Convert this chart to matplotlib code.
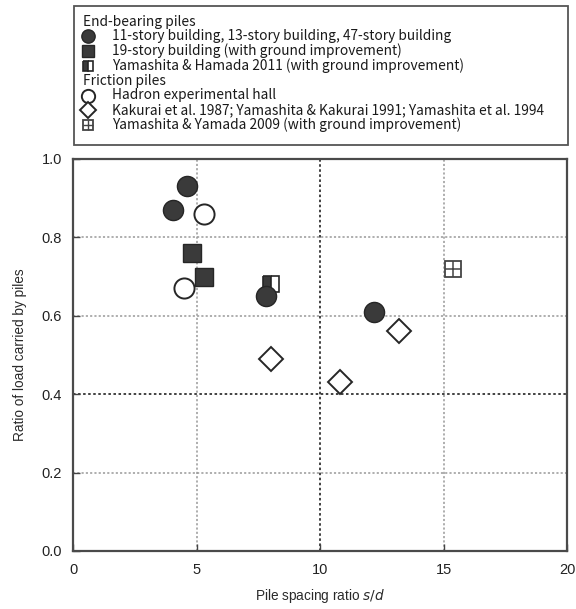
import matplotlib
matplotlib.use("Agg")
import matplotlib.pyplot as plt
from matplotlib.patches import Rectangle

# ---- data -----------------------------------------------------------------
# End-bearing piles
bldg_x = [4.03, 4.60, 7.82, 12.2]          # 11-, 13-, 47-story buildings
bldg_y = [0.87, 0.93, 0.65, 0.61]
gi19_x = [4.82, 5.31]                      # 19-story building (ground improvement)
gi19_y = [0.76, 0.70]
yh2011_x = [8.0]                           # Yamashita & Hamada 2011
yh2011_y = [0.68]
# Friction piles
hadron_x = [5.31, 4.51]                    # Hadron experimental hall
hadron_y = [0.86, 0.67]
kak_x = [8.0, 10.8, 13.19]                 # Kakurai / Yamashita et al.
kak_y = [0.49, 0.43, 0.56]
yy2009_x = [15.38]                         # Yamashita & Yamada 2009
yy2009_y = [0.72]

x_ticks = [0, 5, 10, 15, 20]
y_ticks = [0.0, 0.2, 0.4, 0.6, 0.8, 1.0]

legend_rows = [
    ("head", "End-bearing piles"),
    ("circle_f", "11-story building, 13-story building, 47-story building"),
    ("square_f", "19-story building (with ground improvement)"),
    ("square_h", "Yamashita & Hamada 2011 (with ground improvement)"),
    ("head", "Friction piles"),
    ("circle_o", "Hadron experimental hall"),
    ("diamond", "Kakurai et al. 1987; Yamashita & Kakurai 1991; Yamashita et al. 1994"),
    ("square_p", "Yamashita & Yamada 2009 (with ground improvement)"),
]

# ---- styles ---------------------------------------------------------------
DARK = "#3a3a3a"
EDGE = "#262626"
styles = {
    "circle_f": dict(marker="o", ms=14.5, mfc=DARK, mec=EDGE, mew=1.0),
    "square_f": dict(marker="s", ms=12.5, mfc=DARK, mec=EDGE, mew=1.0),
    "square_h": dict(marker="s", ms=11.5, mfc=DARK, mec=EDGE, mew=1.2,
                     fillstyle="left", markerfacecoloralt="white"),
    "circle_o": dict(marker="o", ms=14.5, mfc="white", mec=EDGE, mew=1.4),
    "diamond": dict(marker="D", ms=12.0, mfc="white", mec=EDGE, mew=1.4),
    "square_p": dict(marker="s", ms=11.5, mfc="white", mec="#444444", mew=1.3),
}

W, H, DPI = 576, 609, 100
fig = plt.figure(figsize=(W / DPI, H / DPI), dpi=DPI)
plt.rcParams["font.family"] = ["Liberation Sans", "DejaVu Sans"]

# ---- main axes --------------------------------------------------------------
ax_l, ax_r, ax_t, ax_b = 73, 567, 159, 551
ax = fig.add_axes([ax_l / W, (H - ax_b) / H, (ax_r - ax_l) / W, (ax_b - ax_t) / H])
ax.set_xlim(0, 20)
ax.set_ylim(0, 1.0)

for xv in x_ticks[1:-1]:
    dark = xv == 10
    ax.axvline(xv, color="#333333" if dark else "#999999",
               lw=1.3 if dark else 1.1, ls=(0, (1.4, 1.4)), zorder=1)
for yv in y_ticks[1:-1]:
    dark = abs(yv - 0.4) < 1e-9
    ax.axhline(yv, color="#333333" if dark else "#999999",
               lw=1.3 if dark else 1.1, ls=(0, (1.4, 1.4)), zorder=1)

def plot_series(axis, xs, ys, key, **extra):
    st = dict(styles[key])
    axis.plot(xs, ys, ls="none", zorder=3, **st, **extra)
    if key == "square_p":
        axis.plot(xs, ys, ls="none", marker="+", ms=st["ms"], mec="#444444",
                  mew=1.1, zorder=4, **extra)

plot_series(ax, yh2011_x, yh2011_y, "square_h")
plot_series(ax, gi19_x, gi19_y, "square_f")
plot_series(ax, bldg_x, bldg_y, "circle_f")
plot_series(ax, hadron_x, hadron_y, "circle_o")
plot_series(ax, kak_x, kak_y, "diamond")
plot_series(ax, yy2009_x, yy2009_y, "square_p")

ax.set_xticks(x_ticks)
ax.set_xticklabels([str(v) for v in x_ticks])
ax.set_yticks(y_ticks)
ax.set_yticklabels([f"{v:.1f}" for v in y_ticks])
ax.tick_params(direction="in", length=5, width=1.0, color="#444444",
               labelsize=10.5, labelcolor="#222222", pad=9)
ax.tick_params(axis="y", pad=8)
for sp in ax.spines.values():
    sp.set_color("#4a4a4a")
    sp.set_linewidth(1.6)

ax.set_xlabel("Pile spacing ratio $\\it{s/d}$", fontsize=9.8, color="#2a2a2a", labelpad=7)
ax.set_ylabel("Ratio of load carried by piles", fontsize=9.8, color="#2a2a2a", labelpad=10)

# ---- legend panel ------------------------------------------------------------
lg_l, lg_r, lg_t, lg_b = 73, 568, 5, 145
lg = fig.add_axes([lg_l / W, (H - lg_b) / H, (lg_r - lg_l) / W, (lg_b - lg_t) / H])
lg.set_xlim(0, lg_r - lg_l)
lg.set_ylim(lg_b - lg_t, 0)
lg.axis("off")
lg.add_patch(Rectangle((0.5, 0.5), lg_r - lg_l - 1, lg_b - lg_t - 1, fill=False,
                       ec="#555555", lw=1.3, clip_on=False))

leg_font = ["Noto Sans CJK JP", "DejaVu Sans"]
row0, step = 16.5, 14.8
for i, (key, label) in enumerate(legend_rows):
    y = row0 + i * step
    if key == "head":
        lg.text(10, y, label, fontsize=9.9, va="center", ha="left",
                family=leg_font, color="#1a1a1a")
    else:
        st = dict(styles[key])
        st["ms"] = st["ms"] * 0.66
        lg.plot([15], [y], ls="none", clip_on=False, **st)
        if key == "square_p":
            lg.plot([15], [y], ls="none", marker="+", ms=st["ms"], mec="#444444",
                    mew=1.0, clip_on=False)
        lg.text(39, y, label, fontsize=9.9, va="center", ha="left",
                family=leg_font, color="#1a1a1a")

fig.savefig("out.png", dpi=DPI, facecolor="white")
